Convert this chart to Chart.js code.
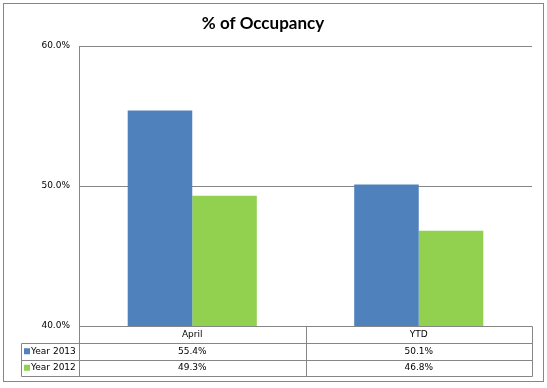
<!DOCTYPE html>
<html>
<head>
<meta charset="utf-8">
<script src="https://cdn.jsdelivr.net/npm/chart.js@4.4.1/dist/chart.umd.min.js"></script>
<style>
  html, body { margin: 0; padding: 0; background: #fff; }
  #wrap { width: 547px; height: 388px; }
</style>
</head>
<body>
<div id="wrap"><canvas id="occupancy" width="547" height="388"></canvas></div>
<script>
// chart values
const categories = ["April", "YTD"];
const seriesNames = ["Year 2013", "Year 2012"];
const year2013 = [55.4, 50.1];
const year2012 = [49.3, 46.8];
const seriesColors = ["#4F81BD", "#92D050"];
const titleText = "% of Occupancy";

const lineColor = "#868686";
const smallFont = "9px 'DejaVu Sans'";

// draws the outer frame, the title and the data table under the plot
const tablePlugin = {
    id: "dataTable",
    afterDraw(chart) {
        const ctx = chart.ctx;
        const area = chart.chartArea;
        const x = chart.scales.x;
        const rowH = 16.5;
        const legendLeft = 21;

        ctx.save();
        ctx.strokeStyle = lineColor;
        ctx.lineWidth = 1;

        // outer frame
        ctx.strokeRect(3.5, 3.5, 540, 378);

        // title
        ctx.fillStyle = "#000";
        ctx.font = "bold 17px Lato";
        ctx.textAlign = "center";
        ctx.textBaseline = "alphabetic";
        ctx.fillText(titleText, 263, 29);

        // table grid
        const top = Math.round(area.bottom) + 0.5;
        const left = Math.round(area.left) + 0.5;
        const right = Math.round(area.right) + 0.5;
        const bottom = Math.round(top + rowH * 3);
        ctx.beginPath();
        // header row
        ctx.moveTo(left, top); ctx.lineTo(right, top);
        // value rows
        for (let r = 1; r <= 3; r++) {
            const y = Math.round(top + rowH * r) + 0.5;
            ctx.moveTo(legendLeft + 0.5, y); ctx.lineTo(right, y);
        }
        ctx.moveTo(left, top); ctx.lineTo(left, bottom + 0.5);
        ctx.moveTo(right, top); ctx.lineTo(right, bottom + 0.5);
        ctx.moveTo(legendLeft + 0.5, Math.round(top + rowH) + 0.5);
        ctx.lineTo(legendLeft + 0.5, bottom + 0.5);
        // column dividers between categories
        for (let i = 1; i < categories.length; i++) {
            const dx = Math.round((x.getPixelForValue(i - 1) + x.getPixelForValue(i)) / 2) + 0.5;
            ctx.moveTo(dx, top); ctx.lineTo(dx, bottom + 0.5);
        }
        ctx.stroke();

        // texts
        ctx.font = smallFont;
        ctx.fillStyle = "#000";
        ctx.textBaseline = "middle";
        ctx.textAlign = "center";
        categories.forEach((c, i) => {
            ctx.fillText(c, x.getPixelForValue(i), top + rowH / 2);
        });
        chart.data.datasets.forEach((ds, r) => {
            const cy = top + rowH * (r + 1) + rowH / 2;
            ctx.textAlign = "center";
            ds.data.forEach((v, i) => {
                ctx.fillText(v.toFixed(1) + "%", x.getPixelForValue(i), cy);
            });
            // legend key
            ctx.fillStyle = ds.backgroundColor;
            ctx.fillRect(legendLeft + 3, cy - 3, 6, 6);
            ctx.fillStyle = "#000";
            ctx.textAlign = "left";
            ctx.fillText(ds.label, legendLeft + 10, cy);
        });
        ctx.restore();
    }
};

const barCtx = document.getElementById("occupancy").getContext("2d");
new Chart(barCtx, {
    type: "bar",
    data: {
        labels: categories,
        datasets: [
            { label: seriesNames[0], data: year2013, backgroundColor: seriesColors[0] },
            { label: seriesNames[1], data: year2012, backgroundColor: seriesColors[1] }
        ]
    },
    options: {
        responsive: false,
        maintainAspectRatio: false,
        animation: false,
        devicePixelRatio: 1,
        categoryPercentage: 0.57,
        barPercentage: 1,
        layout: { padding: { top: 46, right: 15, bottom: 62, left: 0 } },
        plugins: {
            legend: { display: false },
            title: { display: false },
            tooltip: { enabled: false }
        },
        scales: {
            x: { display: false },
            y: {
                min: 40,
                max: 60,
                ticks: {
                    stepSize: 10,
                    padding: 9,
                    color: "#000",
                    font: { family: "DejaVu Sans", size: 9 },
                    callback: v => v.toFixed(1) + "%"
                },
                grid: { color: lineColor, drawTicks: false, tickLength: 0 },
                border: { display: true, color: lineColor },
                afterFit: s => { s.width = 79; }
            }
        }
    },
    plugins: [tablePlugin]
});
</script>
</body>
</html>
